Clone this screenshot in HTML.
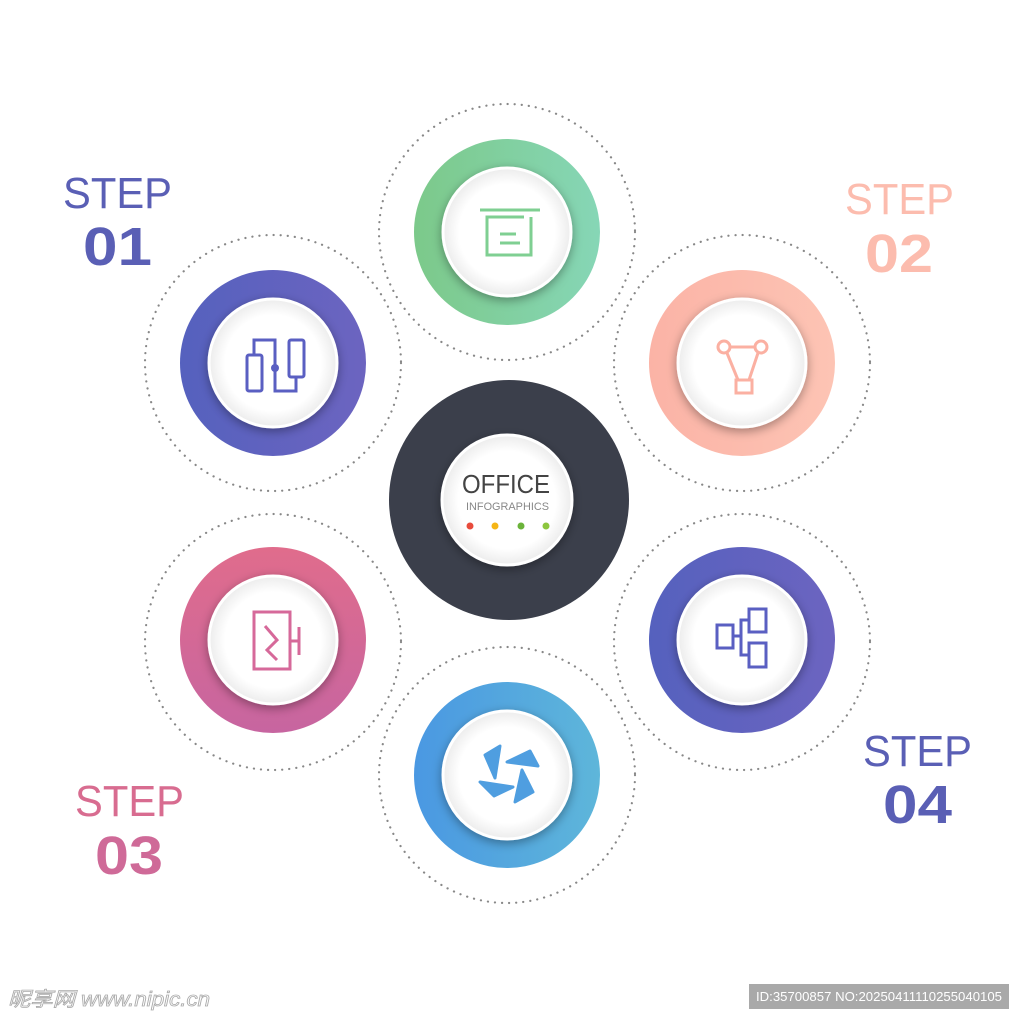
<!DOCTYPE html>
<html><head><meta charset="utf-8"><style>
html,body{margin:0;padding:0;background:#fff;}
svg{display:block;}
</style></head><body>
<svg width="1024" height="1024" viewBox="0 0 1024 1024" xmlns="http://www.w3.org/2000/svg" font-family="Liberation Sans, sans-serif">
<defs>
<linearGradient id="gG" x1="0" y1="0" x2="1" y2="0"><stop offset="0" stop-color="#7cc98a"/><stop offset="1" stop-color="#86d6b6"/></linearGradient>
<linearGradient id="gB" x1="0" y1="0" x2="1" y2="0"><stop offset="0" stop-color="#5561be"/><stop offset="1" stop-color="#6c64c0"/></linearGradient>
<linearGradient id="gP" x1="0" y1="0" x2="1" y2="0"><stop offset="0" stop-color="#fbb3a6"/><stop offset="1" stop-color="#fdc4b4"/></linearGradient>
<linearGradient id="gK" x1="0" y1="0" x2="0" y2="1"><stop offset="0" stop-color="#e06c8c"/><stop offset="1" stop-color="#c765a0"/></linearGradient>
<linearGradient id="gC" x1="0" y1="0" x2="1" y2="0"><stop offset="0" stop-color="#4a98e2"/><stop offset="1" stop-color="#5eb6da"/></linearGradient>
<radialGradient id="wh" cx="0.5" cy="0.5" r="0.5"><stop offset="0.75" stop-color="#ffffff"/><stop offset="1" stop-color="#ececec"/></radialGradient>
<filter id="sh" x="-30%" y="-30%" width="160%" height="160%"><feDropShadow dx="0" dy="3" stdDeviation="5" flood-color="#000" flood-opacity="0.35"/></filter>
</defs>
<g fill="none" stroke="#888" stroke-width="2.2" stroke-dasharray="0.1 7" stroke-linecap="round">
<circle cx="507" cy="232" r="128"/>
<circle cx="273" cy="363" r="128"/>
<circle cx="742" cy="363" r="128"/>
<circle cx="273" cy="642" r="128"/>
<circle cx="742" cy="642" r="128"/>
<circle cx="507" cy="775" r="128"/>
</g>
<circle cx="509" cy="500" r="120" fill="#3b3f4b"/>
<circle cx="507" cy="232" r="93" fill="url(#gG)"/>
<circle cx="273" cy="363" r="93" fill="url(#gB)"/>
<circle cx="742" cy="363" r="93" fill="url(#gP)"/>
<circle cx="273" cy="640" r="93" fill="url(#gK)"/>
<circle cx="742" cy="640" r="93" fill="url(#gB)"/>
<circle cx="507" cy="775" r="93" fill="url(#gC)"/>
<g fill="url(#wh)" stroke="#fff" stroke-width="3" filter="url(#sh)">
<circle cx="507" cy="500" r="65"/>
<circle cx="507" cy="232" r="64"/>
<circle cx="273" cy="363" r="64"/>
<circle cx="742" cy="363" r="64"/>
<circle cx="273" cy="640" r="64"/>
<circle cx="742" cy="640" r="64"/>
<circle cx="507" cy="775" r="64"/>
</g>
<text x="462" y="493" font-size="26" fill="#444" textLength="88" lengthAdjust="spacingAndGlyphs">OFFICE</text>
<text x="466" y="510" font-size="11" fill="#888" textLength="83" lengthAdjust="spacingAndGlyphs">INFOGRAPHICS</text>
<circle cx="470" cy="526" r="3.5" fill="#e84b3c"/>
<circle cx="495" cy="526" r="3.5" fill="#f5b515"/>
<circle cx="521" cy="526" r="3.5" fill="#6bb33a"/>
<circle cx="546" cy="526" r="3.5" fill="#8cc63e"/>
<g stroke="#7fcf92" stroke-width="3" fill="none">
<line x1="480" y1="210" x2="540" y2="210"/>
<path d="M524 217 H487 V255 H531 V217"/>
<line x1="500" y1="234" x2="516" y2="234"/>
<line x1="500" y1="243" x2="520" y2="243"/>
</g>
<g stroke="#5a5fc2" stroke-width="3" fill="none">
<rect x="247" y="355" width="15" height="36" rx="2"/>
<rect x="289" y="340" width="15" height="37" rx="2"/>
<path d="M254 355 V340 H275 V391 H296 V377"/>
</g>
<circle cx="275" cy="368" r="4" fill="#5a5fc2"/>
<g stroke="#fbb0a2" stroke-width="3" fill="none">
<circle cx="724" cy="347" r="6"/>
<circle cx="761" cy="347" r="6"/>
<line x1="730" y1="347" x2="755" y2="347"/>
<path d="M727 353 L738 380 M758 353 L749 380"/>
<rect x="736" y="380" width="16" height="13"/>
</g>
<g stroke="#d6699a" stroke-width="3" fill="none">
<rect x="254" y="612" width="36" height="57"/>
<path d="M265 626 L277 640 L267 650 L277 660"/>
<line x1="290" y1="641" x2="299" y2="641"/>
<line x1="299" y1="627" x2="299" y2="655"/>
</g>
<g stroke="#5a5fc2" stroke-width="3" fill="none">
<rect x="717" y="625" width="16" height="23"/>
<rect x="749" y="609" width="17" height="23"/>
<rect x="749" y="643" width="17" height="24"/>
<path d="M733 636 H741 M749 620 H741 V655 H749"/>
</g>
<g fill="#4f9ee0" stroke="#4f9ee0" stroke-width="3" stroke-linejoin="round">
<polygon points="500,746 485,755 495,778"/>
<polygon points="507,762 530,751 538,766"/>
<polygon points="480,782 513,787 494,796"/>
<polygon points="522,770 515,802 533,792"/>
</g>
<g font-size="44">
<text x="63" y="208" fill="#5a5fb5" textLength="109" lengthAdjust="spacingAndGlyphs">STEP</text>
<text x="845" y="214" fill="#fcbcae" textLength="109" lengthAdjust="spacingAndGlyphs">STEP</text>
<text x="75" y="816" fill="#d86c90" textLength="109" lengthAdjust="spacingAndGlyphs">STEP</text>
<text x="863" y="766" fill="#5a5fb5" textLength="109" lengthAdjust="spacingAndGlyphs">STEP</text>
</g>
<g font-size="54" font-weight="bold">
<text x="83" y="265" fill="#5a5fb5" textLength="69" lengthAdjust="spacingAndGlyphs">01</text>
<text x="865" y="272" fill="#fcbcae" textLength="68" lengthAdjust="spacingAndGlyphs">02</text>
<text x="95" y="874" fill="#cf6a98" textLength="68" lengthAdjust="spacingAndGlyphs">03</text>
<text x="883" y="823" fill="#5a5fb5" textLength="69" lengthAdjust="spacingAndGlyphs">04</text>
</g>
<text x="8" y="1006" font-size="20" fill="#fff" stroke="#aaa" stroke-width="0.8" font-family="Liberation Sans, Noto Sans CJK SC, sans-serif" font-style="italic" textLength="202" lengthAdjust="spacingAndGlyphs">昵享网 www.nipic.cn</text>
<rect x="749" y="984" width="260" height="25" fill="#a9a9a9"/>
<text x="756" y="1001" font-size="13" fill="#fff" textLength="246" lengthAdjust="spacingAndGlyphs">ID:35700857 NO:20250411110255040105</text>
</svg>
</body></html>
